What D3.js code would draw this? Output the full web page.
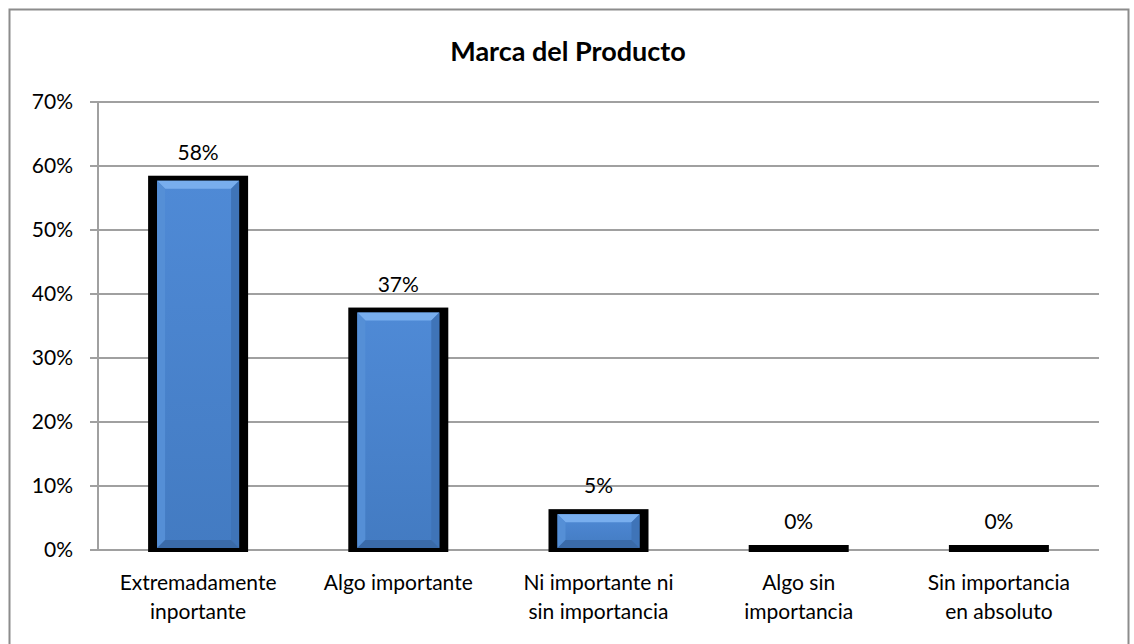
<!DOCTYPE html>
<html><head><meta charset="utf-8">
<script src="https://cdn.jsdelivr.net/npm/d3@7"></script>
<style>body{margin:0;background:#fff}svg{display:block}</style>
</head><body>
<script>
const categories = [["Extremadamente","inportante"],["Algo importante"],["Ni importante ni","sin importancia"],["Algo sin","importancia"],["Sin importancia","en absoluto"]];
const values = [0.577, 0.371, 0.056, 0, 0];
const valueLabels = ["58%","37%","5%","0%","0%"];
const yTicks = [0,0.1,0.2,0.3,0.4,0.5,0.6,0.7];
const title = "Marca del Producto";

const W=1134,H=644;
const font = "Lato, 'Open Sans', sans-serif";
const svg = d3.select("body").append("svg").attr("width",W).attr("height",H);
const defs = svg.append("defs");
const g1 = defs.append("linearGradient").attr("id","bg").attr("x1",0).attr("x2",0).attr("y1",0).attr("y2",1);
g1.append("stop").attr("offset","0%").attr("stop-color","#4f8ad6");
g1.append("stop").attr("offset","100%").attr("stop-color","#437bc2");

svg.append("rect").attr("x",9.5).attr("y",9.5).attr("width",1119).attr("height",H).attr("fill","#fff").attr("stroke","#8c8c8c").attr("stroke-width",2);

const x = d3.scaleBand().domain(d3.range(categories.length)).range([98,1099]).paddingInner(0).paddingOuter(0);
const y = d3.scaleLinear().domain([0,0.7]).range([550,102]);

svg.append("g").selectAll("line").data(yTicks).join("line")
  .attr("x1",90).attr("x2",1099).attr("y1",d=>y(d)).attr("y2",d=>y(d))
  .attr("stroke","#a0a0a0").attr("stroke-width",2);
svg.append("line").attr("x1",98).attr("x2",98).attr("y1",y(0.7)).attr("y2",y(0)).attr("stroke","#a0a0a0").attr("stroke-width",2);

svg.append("g").selectAll("text").data(yTicks).join("text")
  .attr("x",73).attr("y",d=>y(d)).attr("dy","0.35em").attr("text-anchor","end")
  .attr("font-family",font).attr("font-size",21).attr("fill","#000")
  .text(d3.format(".0%"));

svg.append("text").attr("x",568).attr("y",61).attr("text-anchor","middle")
  .attr("font-family",font).attr("font-weight","bold").attr("font-size",27).text(title);

const bw = x.bandwidth();
const bars = svg.append("g").selectAll("g").data(values).join("g");
bars.append("rect").attr("x",(d,i)=>x(i)+bw/2-50).attr("width",100)
  .attr("y",d=>y(d)-5).attr("height",d=>y(0)+2-(y(d)-5)).attr("fill","#000");
bars.each(function(d,i){
  if(d<=0) return;
  const gg=d3.select(this);
  const cx=x(i)+bw/2;
  const x0=cx-41,x1=cx+41,y0=y(d),y1=y(0)-2;
  const b=Math.min(8,(y1-y0)/2);
  gg.append("rect").attr("x",x0).attr("y",y0).attr("width",x1-x0).attr("height",y1-y0).attr("fill","url(#bg)");
  gg.append("path").attr("d",`M${x0},${y0}L${x1},${y0}L${x1-b},${y0+b}L${x0+b},${y0+b}Z`).attr("fill","#78aeee");
  gg.append("path").attr("d",`M${x0},${y0}L${x0+b},${y0+b}L${x0+b},${y1-b}L${x0},${y1}Z`).attr("fill","#558fd6");
  gg.append("path").attr("d",`M${x1},${y0}L${x1-b},${y0+b}L${x1-b},${y1-b}L${x1},${y1}Z`).attr("fill","#3f74b8");
  gg.append("path").attr("d",`M${x0},${y1}L${x0+b},${y1-b}L${x1-b},${y1-b}L${x1},${y1}Z`).attr("fill","#3a6aa8");
});

svg.append("g").selectAll("text").data(values).join("text")
  .attr("x",(d,i)=>x(i)+bw/2).attr("y",d=>y(d)-21).attr("text-anchor","middle")
  .attr("font-family",font).attr("font-size",21).text((d,i)=>valueLabels[i]);

const xl = svg.append("g").selectAll("text").data(categories).join("text")
  .attr("x",(d,i)=>x(i)+bw/2).attr("y",590).attr("text-anchor","middle")
  .attr("font-family",font).attr("font-size",21);
xl.selectAll("tspan").data(d=>d).join("tspan")
  .attr("x",function(){return this.parentNode.getAttribute("x");})
  .attr("dy",(d,j)=>j===0?0:29).text(d=>d);
</script>
</body></html>
